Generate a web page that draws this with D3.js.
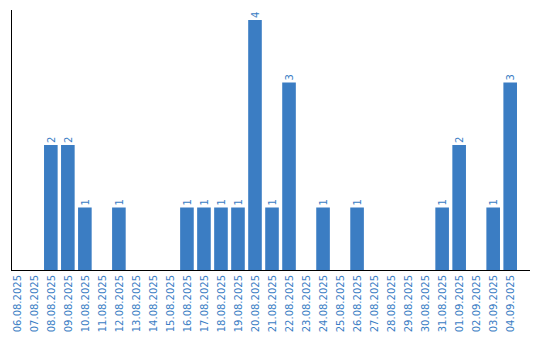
<!DOCTYPE html>
<html>
<head>
<meta charset="utf-8">
<script src="https://cdn.jsdelivr.net/npm/d3@7"></script>
<style>
  body { margin: 0; background: #fff; }
  text { font-family: "DejaVu Sans", sans-serif; font-size: 10px; fill: #3a7dc4; }
  line { shape-rendering: crispEdges; }
</style>
</head>
<body>
<svg width="540" height="340"></svg>
<script>
// daily counts
let days = ["06.08.2025","07.08.2025","08.08.2025","09.08.2025","10.08.2025","11.08.2025",
  "12.08.2025","13.08.2025","14.08.2025","15.08.2025","16.08.2025","17.08.2025","18.08.2025",
  "19.08.2025","20.08.2025","21.08.2025","22.08.2025","23.08.2025","24.08.2025","25.08.2025",
  "26.08.2025","27.08.2025","28.08.2025","29.08.2025","30.08.2025","31.08.2025","01.09.2025",
  "02.09.2025","03.09.2025","04.09.2025"];
let counts = [0,0,2,2,1,0,1,0,0,0,1,1,1,1,4,1,3,0,1,0,1,0,0,0,0,1,2,0,1,3];

let data = days.map(function(d, i){ return {day: d, count: counts[i]}; });

let svg = d3.select("svg");

let x = d3.scaleBand()
    .domain(days)
    .range([10, 517])
    .paddingInner(0.2)
    .paddingOuter(0);

let y = d3.scaleLinear()
    .domain([0, 4.16])
    .range([270, 10]);

svg.selectAll(".bar")
  .data(data.filter(function(d){ return d.count > 0; }))
  .enter().append("rect")
    .attr("class", "bar")
    .attr("x", function(d){ return x(d.day); })
    .attr("y", function(d){ return y(d.count); })
    .attr("width", x.bandwidth())
    .attr("height", function(d){ return y(0) - y(d.count); })
    .attr("fill", "#3b7dc3");

// value labels
svg.selectAll(".val")
  .data(data.filter(function(d){ return d.count > 0; }))
  .enter().append("text")
    .attr("class", "val")
    .attr("transform", function(d){
      return "translate(" + (x(d.day) + x.bandwidth()/2 + 4) + "," + (y(d.count) - 2) + ") rotate(-90)";
    })
    .text(function(d){ return d.count; });

// tick labels
svg.selectAll(".tick-label")
  .data(days)
  .enter().append("text")
    .attr("class", "tick-label")
    .attr("text-anchor", "end")
    .attr("transform", function(d){
      return "translate(" + (x(d) + x.bandwidth()/2 + 4) + ",275) rotate(-90)";
    })
    .text(function(d){ return d; });

// axes lines
svg.append("line")
    .attr("x1", 11.5).attr("x2", 11.5)
    .attr("y1", 10).attr("y2", 271)
    .attr("stroke", "#000").attr("stroke-width", 1);

svg.append("line")
    .attr("x1", 11).attr("x2", 530)
    .attr("y1", 270.5).attr("y2", 270.5)
    .attr("stroke", "#000").attr("stroke-width", 1);
</script>
</body>
</html>
